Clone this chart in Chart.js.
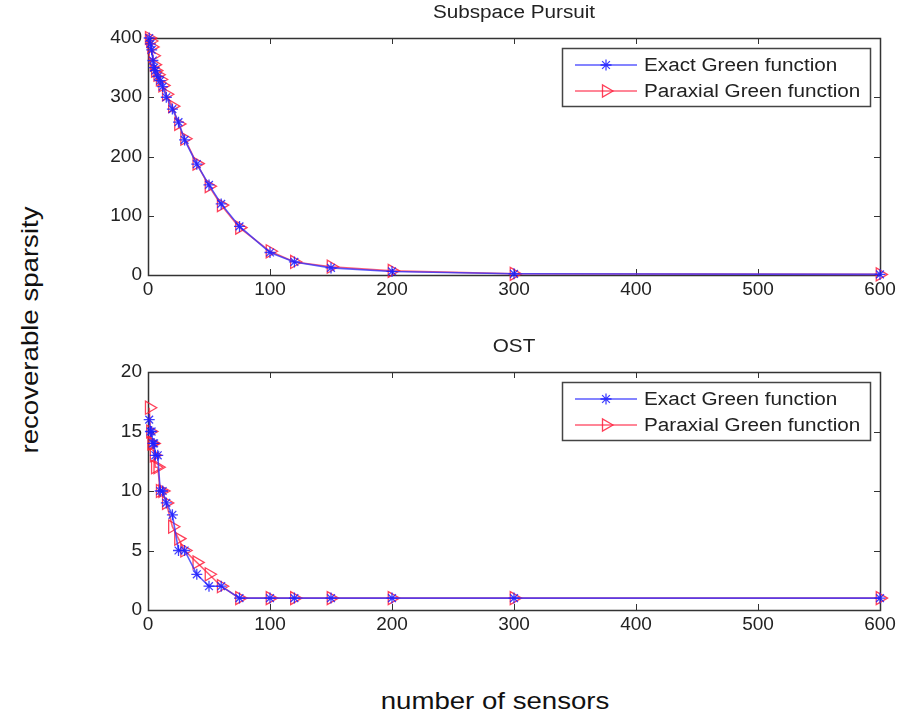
<!DOCTYPE html>
<html>
<head>
<meta charset="utf-8">
<script src="https://cdn.jsdelivr.net/npm/chart.js@4.4.1/dist/chart.umd.min.js"></script>
<style>
  body { margin: 0; background: #fff; width: 899px; height: 717px; position: relative; overflow: hidden; }
  canvas { position: absolute; }
  .lbl { position: absolute; font-family: "Liberation Sans", Arial, sans-serif; font-size: 24px; color: #111; white-space: nowrap; }
</style>
</head>
<body>
<canvas id="top" width="799" height="300" style="left:100px;top:0px"></canvas>
<canvas id="bottom" width="799" height="301" style="left:100px;top:334px"></canvas>
<div class="lbl" id="ylab" style="left:30px;top:330px;transform:translate(-50%,-50%) rotate(-90deg) scaleX(1.15)">recoverable sparsity</div>
<div class="lbl" id="xlab" style="left:495px;top:701px;transform:translate(-50%,-50%) scaleX(1.15)">number of sensors</div>
<script>
  // number of sensors (x values, shared)
  const sensors = [1, 2, 3, 4, 5, 6, 8, 10, 12, 15, 20, 25, 30, 40, 50, 60, 75, 100, 120, 150, 200, 300, 600];

  // Subspace Pursuit
  const spExact    = [400, 390, 380, 362, 350, 345, 335, 328, 318, 300, 280, 258, 228, 187, 152, 120, 82, 38, 22, 12, 6, 2, 1];
  const spParaxial = [400, 395, 385, 370, 355, 345, 338, 330, 320, 305, 285, 255, 230, 188, 150, 118, 80, 40, 22, 14, 7, 2, 1];

  // OST
  const ostExact    = [16, 15, 15, 14, 14, 13, 13, 10, 10, 9, 8, 5, 5, 3, 2, 2, 1, 1, 1, 1, 1, 1, 1];
  const ostParaxial = [17, 15, 14, 14, 13, 12, 12, 10, 10, 9, 7, 6, 5, 4, 3, 2, 1, 1, 1, 1, 1, 1, 1];

  const seriesNames = ['Exact Green function', 'Paraxial Green function'];
  const xTicks = [0, 100, 200, 300, 400, 500, 600];

  const FONT = '"Liberation Sans", Arial, sans-serif';
  const STRETCH = 1.15;

  function toPoints(ys) {
    return sensors.map((x, i) => ({ x: x, y: ys[i] }));
  }

  function drawMarker(ctx, style, x, y, color) {
    ctx.save();
    ctx.strokeStyle = color;
    ctx.lineWidth = 1.3;
    ctx.beginPath();
    if (style === 'star') {
      const r = 5.5;
      for (let k = 0; k < 4; k++) {
        const a = k * Math.PI / 4;
        ctx.moveTo(x - r * Math.cos(a), y - r * Math.sin(a));
        ctx.lineTo(x + r * Math.cos(a), y + r * Math.sin(a));
      }
    } else {
      const r = 7;
      ctx.moveTo(x + r, y);
      ctx.lineTo(x - r * 0.5, y - r * 0.87);
      ctx.lineTo(x - r * 0.5, y + r * 0.87);
      ctx.closePath();
    }
    ctx.stroke();
    ctx.restore();
  }

  function stretchText(ctx, text, x, y, align) {
    ctx.save();
    ctx.translate(x, y);
    ctx.scale(STRETCH, 1);
    ctx.textAlign = align;
    ctx.fillText(text, 0, 0);
    ctx.restore();
  }

  // box, inward ticks, title and legend, matlab style
  const matlabBox = {
    id: 'matlabBox',
    beforeDatasetsDraw(chart) {
      const ctx = chart.ctx, a = chart.chartArea;
      const xs = chart.scales.x, ys = chart.scales.y;
      ctx.save();
      ctx.strokeStyle = '#333';
      ctx.lineWidth = 1;
      ctx.beginPath();
      xs.ticks.forEach(t => {
        const px = Math.round(xs.getPixelForValue(t.value)) + 0.5;
        ctx.moveTo(px, a.bottom); ctx.lineTo(px, a.bottom - 6);
        ctx.moveTo(px, a.top); ctx.lineTo(px, a.top + 6);
      });
      ys.ticks.forEach(t => {
        const py = Math.round(ys.getPixelForValue(t.value)) + 0.5;
        ctx.moveTo(a.left, py); ctx.lineTo(a.left + 6, py);
        ctx.moveTo(a.right, py); ctx.lineTo(a.right - 6, py);
      });
      ctx.stroke();
      ctx.lineWidth = 1.5;
      ctx.strokeRect(Math.round(a.left) + 0.5, Math.round(a.top) + 0.5, Math.round(a.right - a.left), Math.round(a.bottom - a.top));
      ctx.restore();
    },
    afterDraw(chart, args, opts) {
      const ctx = chart.ctx, a = chart.chartArea;
      ctx.save();
      ctx.fillStyle = '#222';
      ctx.font = '18px ' + FONT;
      ctx.textBaseline = 'middle';
      stretchText(ctx, opts.title, (a.left + a.right) / 2, opts.titleY, 'center');

      // legend box
      const w = 308, h = 58;
      const bx = a.right - 10 - w, by = a.top + 10;
      ctx.fillStyle = '#fff';
      ctx.fillRect(bx, by, w, h);
      ctx.strokeStyle = '#444';
      ctx.lineWidth = 1.5;
      ctx.strokeRect(bx + 0.5, by + 0.5, w, h);
      chart.data.datasets.forEach((ds, i) => {
        const cy = by + 17 + i * 26;
        ctx.strokeStyle = ds.borderColor;
        ctx.lineWidth = 1.5;
        ctx.beginPath();
        ctx.moveTo(bx + 13, cy);
        ctx.lineTo(bx + 75, cy);
        ctx.stroke();
        drawMarker(ctx, ds.pointStyle, bx + 44, cy, ds.pointBorderColor);
        ctx.fillStyle = '#222';
        ctx.font = '18px ' + FONT;
        stretchText(ctx, ds.label, bx + 82, cy + 1, 'left');
      });
      ctx.restore();
    }
  };

  function makeChart(id, exact, paraxial, yMax, yStep, title) {
    return new Chart(document.getElementById(id), {
      type: 'line',
      data: {
        datasets: [
          {
            label: seriesNames[0],
            data: toPoints(exact),
            borderColor: 'rgba(50,50,255,0.8)',
            borderWidth: 1.6,
            pointStyle: 'star',
            pointRadius: 5.5,
            pointBorderWidth: 1.3,
            pointBorderColor: 'rgba(30,30,255,0.85)',
            pointBackgroundColor: 'rgba(0,0,0,0)',
            clip: false,
            tension: 0
          },
          {
            label: seriesNames[1],
            data: toPoints(paraxial),
            borderColor: 'rgba(255,40,70,0.75)',
            borderWidth: 1.6,
            pointStyle: 'triangle',
            rotation: 90,
            pointRadius: 7.5,
            pointBorderWidth: 1.3,
            pointBorderColor: 'rgba(255,30,60,0.85)',
            pointBackgroundColor: 'rgba(0,0,0,0)',
            clip: false,
            tension: 0
          }
        ]
      },
      options: {
        responsive: false,
        animation: false,
        devicePixelRatio: 1,
        layout: { padding: { top: 38, right: 19, left: 0, bottom: 0 } },
        plugins: {
          legend: { display: false },
          tooltip: { enabled: false },
          matlabBox: { title: title, titleY: 13 }
        },
        scales: {
          x: {
            type: 'linear',
            min: 0, max: 600,
            afterBuildTicks: s => { s.ticks = xTicks.map(v => ({ value: v })); },
            afterFit: s => { s.height = 25; },
            grid: { display: false, drawTicks: false },
            border: { display: false },
            ticks: { padding: 3, color: '#222', font: { family: FONT, size: 19 }, maxRotation: 0 }
          },
          y: {
            min: 0, max: yMax,
            afterFit: s => { s.width = 48; },
            grid: { display: false, drawTicks: false },
            border: { display: false },
            ticks: { stepSize: yStep, padding: 6, color: '#222', font: { family: FONT, size: 19 } }
          }
        }
      },
      plugins: [matlabBox]
    });
  }

  makeChart('top', spExact, spParaxial, 400, 100, 'Subspace Pursuit');
  makeChart('bottom', ostExact, ostParaxial, 20, 5, 'OST');
</script>
</body>
</html>
